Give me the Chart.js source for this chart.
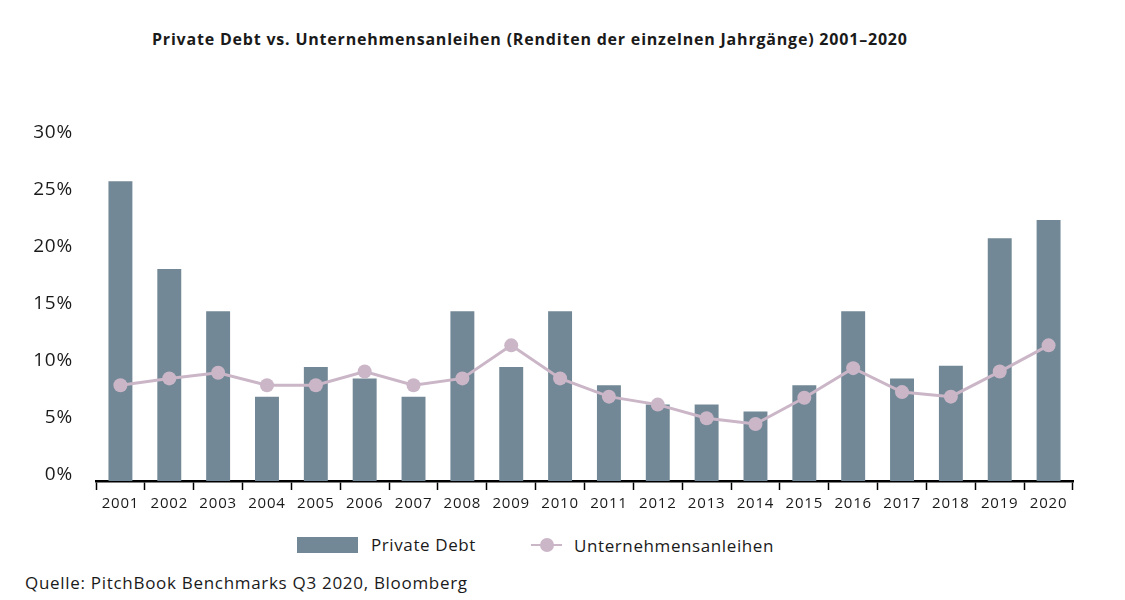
<!DOCTYPE html>
<html lang="de">
<head>
<meta charset="UTF-8">
<title>Private Debt vs. Unternehmensanleihen</title>
<script src="https://cdn.jsdelivr.net/npm/chart.js"></script>
<style>
    body { margin: 0; background: #fff; font-family: "Open Sans", sans-serif; color: #1a1a1a; }
    .page { position: relative; width: 1125px; height: 600px; overflow: hidden; }
    .title { position: absolute; left: 152px; top: 28px; font-size: 16px; font-weight: 700; letter-spacing: 0.8px; white-space: nowrap; }
    .chart-box { position: absolute; left: 0; top: 0; width: 1125px; height: 530px; }
    .legend-item { position: absolute; top: 533px; display: flex; align-items: center; font-size: 17px; letter-spacing: 0.6px; white-space: nowrap; }
    .swatch { width: 61px; height: 16px; background: #728896; margin-right: 13px; }
    .line-marker { position: relative; width: 31px; height: 24px; margin-right: 12px; }
    .line-marker .ln { position: absolute; left: 0; right: 0; top: 11px; height: 2px; background: #cbb6c8; }
    .line-marker .dot { position: absolute; left: 9px; top: 5px; width: 14px; height: 14px; border-radius: 50%; background: #cbb6c8; }
    .source { position: absolute; left: 25px; top: 571px; font-size: 17px; letter-spacing: 0.7px; white-space: nowrap; }
</style>
</head>
<body>
<div class="page">
    <div class="title">Private Debt vs. Unternehmensanleihen (Renditen der einzelnen Jahrgänge) 2001–2020</div>
    <div class="chart-box"><canvas id="chart"></canvas></div>
    <div class="legend-item" style="left:297px"><div class="swatch"></div><span>Private Debt</span></div>
    <div class="legend-item" style="left:531px"><div class="line-marker"><div class="ln"></div><div class="dot"></div></div><span>Unternehmensanleihen</span></div>
    <div class="source">Quelle: PitchBook Benchmarks Q3 2020, Bloomberg</div>
</div>

<script>
const years = ["2001", "2002", "2003", "2004", "2005", "2006", "2007", "2008", "2009", "2010",
               "2011", "2012", "2013", "2014", "2015", "2016", "2017", "2018", "2019", "2020"];
const privateDebt = [26.3, 18.6, 14.9, 7.4, 10.0, 9.0, 7.4, 14.9, 10.0, 14.9,
                     8.4, 6.7, 6.7, 6.1, 8.4, 14.9, 9.0, 10.1, 21.3, 22.9];
const corporateBonds = [8.4, 9.0, 9.5, 8.4, 8.4, 9.6, 8.4, 9.0, 11.9, 9.0,
                        7.4, 6.7, 5.5, 5.0, 7.3, 9.9, 7.8, 7.4, 9.6, 11.9];
const yTicks = [0, 5, 10, 15, 20, 25, 30];

const barColor = "#728896";
const lineColor = "#cbb6c8";

// wider letter spacing for the axis labels
const spacing = {
    id: "spacing",
    beforeDraw(chart) { chart.ctx.letterSpacing = "0.8px"; }
};

new Chart(document.getElementById("chart"), {
    data: {
        labels: years,
        datasets: [
            {
                type: "line",
                label: "Unternehmensanleihen",
                data: corporateBonds,
                borderColor: lineColor,
                backgroundColor: lineColor,
                borderWidth: 3,
                pointRadius: 7,
                pointHoverRadius: 7,
                pointBorderWidth: 0,
                tension: 0,
                order: 0
            },
            {
                type: "bar",
                label: "Private Debt",
                data: privateDebt,
                backgroundColor: barColor,
                categoryPercentage: 1,
                barPercentage: 0.49,
                order: 1
            }
        ]
    },
    options: {
        responsive: true,
        maintainAspectRatio: false,
        animation: false,
        layout: { padding: { top: 139, right: 52, left: 0, bottom: 0 } },
        plugins: {
            legend: { display: false },
            tooltip: { enabled: false }
        },
        scales: {
            x: {
                offset: true,
                grid: {
                    offset: true,
                    drawOnChartArea: false,
                    drawTicks: true,
                    tickLength: 9,
                    tickWidth: 1.5,
                    tickColor: "#000"
                },
                border: { display: true, color: "#000", width: 2.5 },
                ticks: {
                    color: "#1a1a1a",
                    padding: 5,
                    maxRotation: 0,
                    autoSkip: false,
                    font: { family: "Open Sans", size: 15 }
                },
                afterFit: function (scale) { scale.height = 49; }
            },
            y: {
                min: 0,
                max: 30,
                afterBuildTicks: function (scale) {
                    scale.ticks = yTicks.map(v => ({ value: v }));
                },
                grid: { display: false, drawTicks: false },
                border: { display: false },
                ticks: {
                    color: "#1a1a1a",
                    padding: 23,
                    labelOffset: -6,
                    font: { family: "Open Sans", size: 19 },
                    callback: v => v + "%"
                },
                afterFit: function (scale) { scale.width = 96; }
            }
        }
    },
    plugins: [spacing]
});
</script>
</body>
</html>
